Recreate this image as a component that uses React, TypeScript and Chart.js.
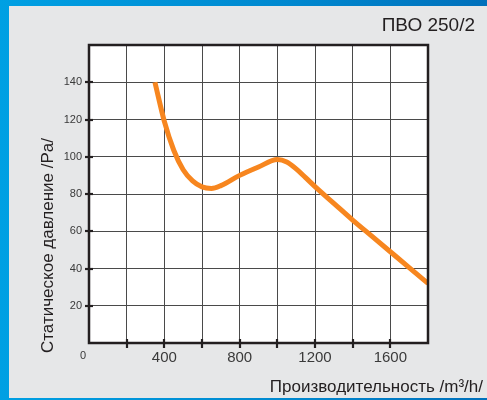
import React, { useEffect, useRef } from "react";
import { Chart, registerables } from "chart.js";

Chart.register(...registerables);

const flowValues = [350, 400, 450, 500, 550, 600, 650, 700, 800, 900, 1000, 1050, 1100, 1150, 1200, 1300, 1400, 1500, 1600, 1700, 1800];
const pressureValues = [140, 119, 103.5, 93, 87, 83.8, 83, 84.5, 90, 94.5, 98.5, 97.2, 93.5, 88.8, 84, 75, 66, 57.5, 49, 40.5, 32];
const xTickLabels = [400, 800, 1200, 1600];
const yTickLabels = [20, 40, 60, 80, 100, 120, 140];
const chartTitle = "ПВО 250/2";
const xTitle = "Производительность /m³/h/";
const yTitle = "Статическое давление /Pa/";
const originLabel = "0";

const FONT = "'Liberation Sans', Arial, sans-serif";

const decorPlugin = {
  id: "decor",
  beforeDraw(chart: any) {
    const { ctx, chartArea } = chart;
    ctx.save();
    ctx.fillStyle = "#ffffff";
    ctx.fillRect(chartArea.left, chartArea.top, chartArea.right - chartArea.left, chartArea.bottom - chartArea.top);
    ctx.restore();
  },
  afterDatasetsDraw(chart: any) {
    const { ctx, chartArea, scales } = chart;
    const { left, right, top, bottom } = chartArea;
    ctx.save();
    ctx.strokeStyle = "#231f20";
    ctx.lineWidth = 2.5;
    ctx.strokeRect(left, top, right - left, bottom - top);
    ctx.lineWidth = 2.2;
    scales.x.ticks.forEach((t: any) => {
      if (t.value <= 0 || t.value >= 1800) return;
      const px = Math.round(scales.x.getPixelForValue(t.value));
      ctx.beginPath();
      ctx.moveTo(px, bottom - 4);
      ctx.lineTo(px, bottom + 5);
      ctx.stroke();
    });
    scales.y.ticks.forEach((t: any) => {
      if (t.value <= 0 || t.value >= 160) return;
      const py = Math.round(scales.y.getPixelForValue(t.value));
      ctx.beginPath();
      ctx.moveTo(left - 4, py);
      ctx.lineTo(left + 4, py);
      ctx.stroke();
    });
    ctx.fillStyle = "#231f20";
    ctx.font = `19px ${FONT}`;
    ctx.textAlign = "right";
    ctx.textBaseline = "alphabetic";
    ctx.fillText(chartTitle, 475, 31);
    ctx.font = `17px ${FONT}`;
    ctx.fillText(xTitle, 483, 392);
    ctx.fillStyle = "#3a3a3a";
    ctx.font = `11px ${FONT}`;
    ctx.textAlign = "center";
    ctx.textBaseline = "middle";
    ctx.fillText(originLabel, left - 6, bottom + 13);
    ctx.save();
    ctx.fillStyle = "#231f20";
    ctx.translate(48.5, 353);
    ctx.rotate(-Math.PI / 2);
    ctx.font = `17px ${FONT}`;
    ctx.textAlign = "left";
    ctx.textBaseline = "middle";
    ctx.fillText(yTitle, 0, 0);
    ctx.restore();
    ctx.restore();
  },
};

export default function App() {
  const ref = useRef<HTMLCanvasElement>(null);
  useEffect(() => {
    if (!ref.current) return;
    const chart = new Chart(ref.current, {
      type: "line",
      data: {
        datasets: [
          {
            data: flowValues.map((x, i) => ({ x, y: pressureValues[i] })),
            borderColor: "#f7861f",
            borderWidth: 5,
            pointRadius: 0,
            cubicInterpolationMode: "monotone",
            fill: false,
          },
        ],
      },
      options: {
        animation: false,
        responsive: false,
        layout: { padding: { top: 45, right: 59, left: 0, bottom: 0 } },
        plugins: { legend: { display: false }, tooltip: { enabled: false } },
        scales: {
          x: {
            type: "linear",
            min: 0,
            max: 1800,
            afterFit: (s: any) => {
              s.height = 57;
            },
            border: { display: false },
            grid: { color: "#4a4a4a", lineWidth: 1, drawTicks: false },
            ticks: {
              stepSize: 200,
              autoSkip: false,
              maxRotation: 0,
              padding: 6,
              color: "#3a3a3a",
              font: { family: FONT, size: 15 },
              callback: (v: any) => (xTickLabels.includes(Number(v)) ? String(v) : ""),
            },
          },
          y: {
            type: "linear",
            min: 0,
            max: 160,
            afterFit: (s: any) => {
              s.width = 89;
            },
            border: { display: false },
            grid: { color: "#4a4a4a", lineWidth: 1, drawTicks: false },
            ticks: {
              stepSize: 20,
              autoSkip: false,
              padding: 7,
              color: "#3a3a3a",
              font: { family: FONT, size: 11 },
              callback: (v: any) => (yTickLabels.includes(Number(v)) ? String(v) : ""),
            },
          },
        },
      } as any,
      plugins: [decorPlugin],
    });
    return () => chart.destroy();
  }, []);

  return (
    <div
      style={{
        position: "absolute",
        left: 0,
        top: 0,
        width: 487,
        height: 400,
        background: "linear-gradient(90deg, #00a0e3 0%, #0088cf 60%, #0070bb 100%)",
        overflow: "hidden",
      }}
    >
      <div
        style={{
          position: "absolute",
          left: 9,
          top: 6,
          width: 478,
          height: 392,
          background: "#e6e7e8",
        }}
      />
      <canvas
        ref={ref}
        width={487}
        height={400}
        style={{ position: "absolute", left: 0, top: 0, width: 487, height: 400 }}
      />
    </div>
  );
}
